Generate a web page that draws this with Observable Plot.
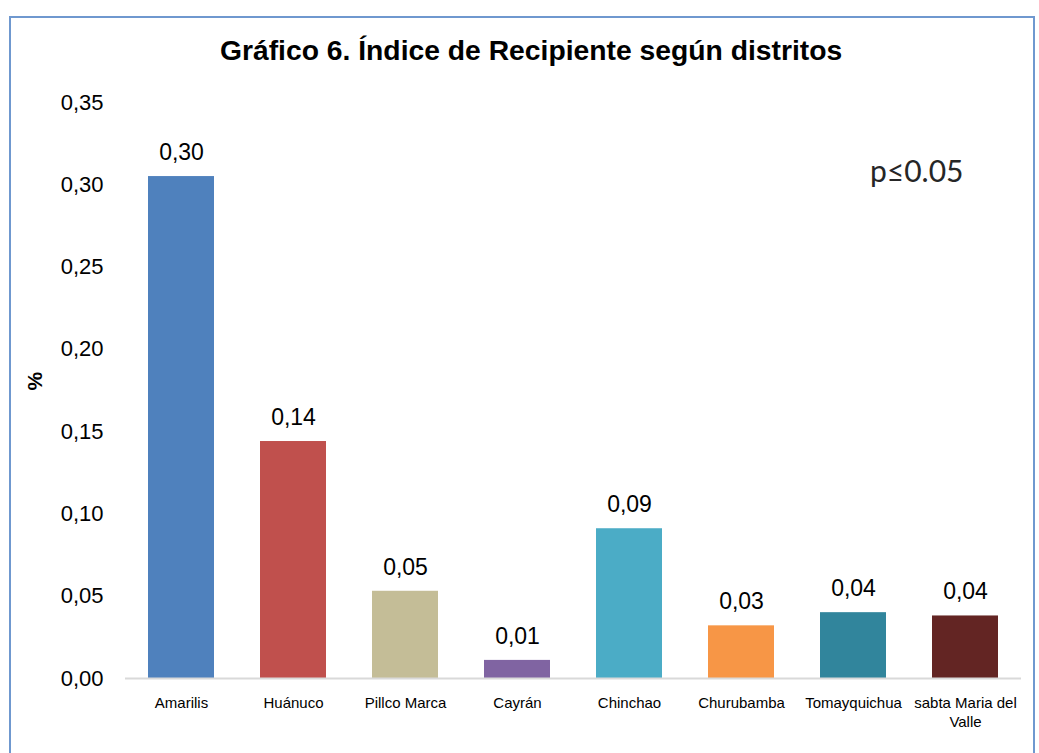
<!DOCTYPE html>
<html>
<head>
<meta charset="utf-8">
<script src="https://cdn.jsdelivr.net/npm/d3@7"></script>
<script src="https://cdn.jsdelivr.net/npm/@observablehq/plot@0.6"></script>
<style>
  html, body { margin: 0; padding: 0; background: #fff; }
  #wrap { position: relative; width: 1039px; height: 753px; overflow: hidden; font-family: "Liberation Sans", Arial, sans-serif; }
  #frame { position: absolute; left: 9px; top: 16px; width: 1026px; height: 760px; border: 2px solid #6f98cf; box-sizing: border-box; }
  #title { position: absolute; left: 0; top: 35px; width: 1062px; text-align: center; font-weight: bold; font-size: 28px; color: #000; }
  #title span { display: inline-block; transform: scaleX(1.01); }
  #chart { position: absolute; left: 0; top: 0; }
</style>
</head>
<body>
<div id="wrap">
  <div id="frame"></div>
  <div id="chart"></div>
  <div id="title"><span>Gráfico 6. Índice de Recipiente según distritos</span></div>
</div>
<script>
const districts = ["Amarilis", "Huánuco", "Pillco Marca", "Cayrán", "Chinchao", "Churubamba", "Tomayquichua", "sabta Maria del Valle"];
const values = [0.305, 0.144, 0.053, 0.011, 0.091, 0.032, 0.040, 0.038];
const labels = ["0,30", "0,14", "0,05", "0,01", "0,09", "0,03", "0,04", "0,04"];
const colors = ["#4F81BD", "#C0504D", "#C4BD97", "#8064A2", "#4BACC6", "#F79646", "#31859C", "#632523"];
const xTickLabels = ["Amarilis", "Huánuco", "Pillco Marca", "Cayrán", "Chinchao", "Churubamba", "Tomayquichua", "sabta Maria del\nValle"];
const yTicks = [0, 0.05, 0.10, 0.15, 0.20, 0.25, 0.30, 0.35];

const data = districts.map((d, i) => ({district: d, value: values[i], label: labels[i], color: colors[i]}));

const chart = Plot.plot({
  width: 1039,
  height: 753,
  marginLeft: 125,
  marginRight: 18,
  marginTop: 102,
  marginBottom: 75,
  style: {fontFamily: "'Liberation Sans', Arial, sans-serif", background: "transparent", overflow: "visible"},
  x: {domain: districts, paddingInner: 0.41, paddingOuter: 0.205, align: 0.5},
  y: {domain: [0, 0.35]},
  marks: [
    Plot.barY(data, {x: "district", y: "value", fill: "color"}),
    Plot.ruleY([0], {stroke: "#d9d9d9", strokeWidth: 2}),
    Plot.text(data, {x: "district", y: "value", text: "label", dy: -24, fontSize: 23, fill: "#000"}),
    Plot.axisY({ticks: yTicks, tickSize: 0, tickPadding: 22, fontSize: 22, tickFormat: d => d.toFixed(2).replace(".", ","), label: null, fill: "#000"}),
    Plot.axisX({tickSize: 0, tickPadding: 16, fontSize: 15, tickFormat: d => xTickLabels[districts.indexOf(d)], label: null, fill: "#000", lineHeight: 1.25}),
    Plot.text(["%"], {frameAnchor: "left", dx: -90, rotate: -90, fontWeight: "bold", fontSize: 21, fill: "#000"}),
    Plot.text(["p≤0.05"], {frameAnchor: "top-right", textAnchor: "end", dx: -58, dy: 58, fontSize: 30, fontFamily: "Lato, 'Open Sans', sans-serif", fill: "#262626"})
  ]
});
document.getElementById("chart").appendChild(chart);
</script>
</body>
</html>
